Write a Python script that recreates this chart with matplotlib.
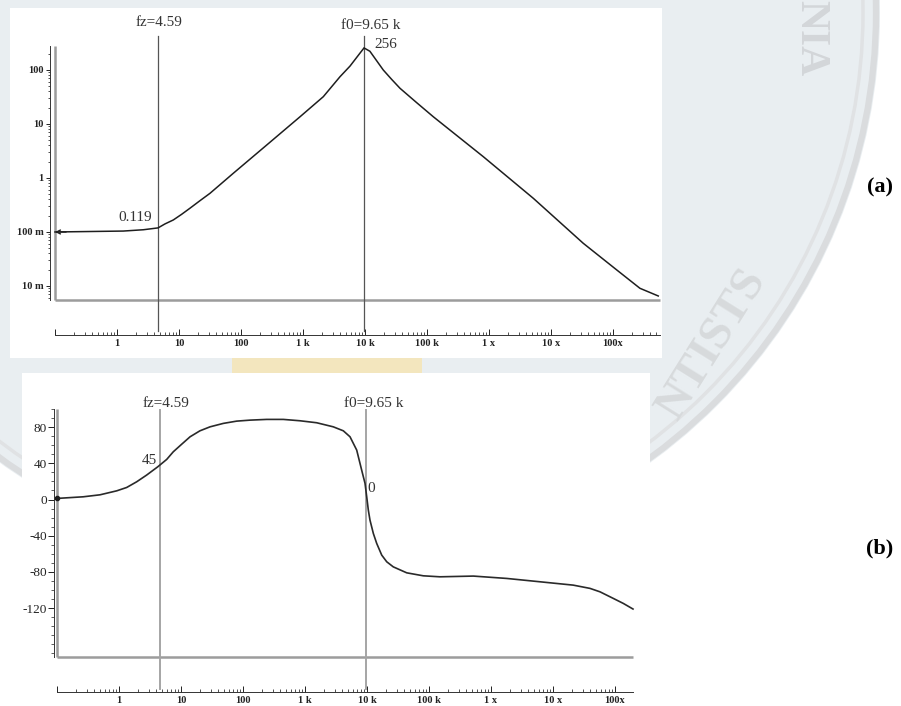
import matplotlib
matplotlib.use('Agg')
import matplotlib.pyplot as plt
from matplotlib.patches import Circle, Rectangle
from matplotlib.ticker import LogLocator, NullFormatter, FixedLocator

plt.rcParams['font.family'] = ['Liberation Serif', 'DejaVu Serif']

# ---------------- data ----------------
fz = 4.59
f0 = 9650.0

mag_freq = [0.1, 1.26, 2.66, 3.41, 4.59, 5.94, 8.1, 11.0, 15, 21.8, 31.6, 75,
            260, 895, 2125, 3950, 5730, 8300, 9650, 12000, 19700, 26900,
            36700, 68200, 126500, 809000, 5.19e6, 3.31e7, 1.15e8, 2.72e8, 5.37e8]
mag_val = [0.100, 0.104, 0.110, 0.114, 0.119, 0.141, 0.167, 0.212, 0.275, 0.38,
           0.52, 1.22, 4.08, 13.6, 32, 75, 118, 205, 256, 222, 100, 67,
           45.8, 24.8, 13.6, 2.48, 0.42, 0.0618, 0.0198, 0.00906, 0.00653]

ph_freq = [0.1, 0.265, 0.494, 0.92, 1.33, 1.93, 2.79, 4.21, 5.88, 7.5, 10.3,
           14, 20.2, 29.4, 48.2, 79, 130, 241, 447, 830, 1543, 2860, 4150,
           5320, 6820, 8200, 9290, 9890, 10500, 11170, 12650, 14330, 17260,
           20800, 26500, 43700, 80900, 150000, 519000, 1.79e6, 6.17e6,
           2.12e7, 3.95e7, 5.73e7, 9.4e7, 1.36e8, 1.95e8]
ph_val = [1.2, 3.0, 5.2, 9.6, 13.3, 19.6, 27.0, 36.1, 44.3, 52.7, 61.2,
          69.3, 75.9, 80.3, 84.1, 86.6, 87.7, 88.5, 88.5, 87.0, 84.8, 80.3, 75.9,
          69.3, 54.6, 32.5, 17.8, 3.0, -11.7, -22.8, -37.5, -48.5, -61.4,
          -68.8, -74.4, -81.0, -84.3, -85.4, -84.6, -87.2, -90.9,
          -94.6, -98.2, -102.0, -109.3, -114.8, -121.0]

x_ticks = [0.1, 1, 10, 100, 1e3, 1e4, 1e5, 1e6, 1e7, 1e8]
x_labels = ['', '1', '10', '100', '1 k', '10 k', '100 k', '1 x', '10 x', '100x']

mag_ticks = [0.01, 0.1, 1, 10, 100]
mag_labels = ['10 m', '100 m', '1', '10', '100']

ph_ticks = [80, 40, 0, -40, -80, -120]
ph_labels = ['80', '40', '0', '-40', '-80', '-120']

fz_label = 'fz=4.59'
f0_label = 'f0=9.65 k'
peak_label = '256'
low_label = '0.119'
ph_fz_label = '45'
ph_f0_label = '0'

# ---------------- figure ----------------
W, H = 901, 706
fig = plt.figure(figsize=(W / 100, H / 100), dpi=100)
fig.patch.set_facecolor('white')

bg = fig.add_axes([0, 0, 1, 1])
bg.set_xlim(0, W)
bg.set_ylim(H, 0)
bg.axis('off')

# watermark seal
bg.add_patch(Circle((325, 13), 555, fc='#e9eef1', ec='none', zorder=0))
bg.add_patch(Circle((325, 13), 551, fc='none', ec='#dadcde', lw=4.5, zorder=1))
bg.add_patch(Circle((325, 13), 538, fc='none', ec='#e0e2e4', lw=2.5, zorder=1))
bg.add_patch(Rectangle((232, 356), 190, 18, fc='#f3e6be', ec='none', zorder=1))
bg.text(810, 38, 'NIA', rotation=-90, fontsize=30, color='#d3d6d9',
        weight='bold', ha='center', va='center', zorder=2)
bg.text(712, 345, 'NTISTS', rotation=58, fontsize=34, color='#d7dadc',
        weight='bold', ha='center', va='center', zorder=2)

# white panels
bg.add_patch(Rectangle((10, 8), 652, 350, fc='white', ec='none', zorder=3))
bg.add_patch(Rectangle((22, 373), 628, 333, fc='white', ec='none', zorder=3))

bg.text(880, 187, '(a)', fontsize=16, weight='bold', ha='center', va='center', zorder=4)
bg.text(880, 548, '(b)', fontsize=16, weight='bold', ha='center', va='center', zorder=4)


def px_rect(x0, y0, x1, y1):
    return [x0 / W, 1 - y1 / H, (x1 - x0) / W, (y1 - y0) / H]


INK = '#1e1e1e'
GRAY = '#9c9c9c'


def style_axes(ax, left_out, bottom_out):
    ax.set_facecolor('none')
    for s in ['top', 'right']:
        ax.spines[s].set_visible(False)
    ax.spines['left'].set_position(('outward', left_out))
    ax.spines['bottom'].set_position(('outward', bottom_out))
    for s in ['left', 'bottom']:
        ax.spines[s].set_linewidth(0.7)
        ax.spines[s].set_color('#333333')
    ax.plot([0, 0], [0, 1], transform=ax.transAxes, color=GRAY, lw=1.8,
            clip_on=False, solid_capstyle='butt')
    ax.plot([0, 1], [0, 0], transform=ax.transAxes, color=GRAY, lw=1.8,
            clip_on=False, solid_capstyle='butt')
    ax.set_xticks(x_ticks, labels=x_labels, fontweight='bold', fontsize=7.5)
    ax.xaxis.set_minor_locator(LogLocator(base=10, subs=range(2, 10), numticks=100))
    ax.xaxis.set_minor_formatter(NullFormatter())
    ax.tick_params(axis='x', which='major', direction='in', length=4, width=0.7,
                   pad=3, colors='#222222')
    ax.tick_params(axis='x', which='minor', direction='in', length=2, width=0.6,
                   colors='#333333')


# ---------------- (a) magnitude ----------------
ax1 = fig.add_axes(px_rect(55, 46, 660, 300))
ax1.set_xscale('log')
ax1.set_yscale('log')
ax1.set_xlim(0.1, 5.73e8)
ax1.set_ylim(0.0055, 278)
style_axes(ax1, 3.6, 25.2)
ax1.set_yticks(mag_ticks, labels=mag_labels, fontweight='bold', fontsize=7.5)
ax1.yaxis.set_minor_locator(LogLocator(base=10, subs=range(2, 10), numticks=100))
ax1.yaxis.set_minor_formatter(NullFormatter())
ax1.tick_params(axis='y', which='major', direction='out', length=3, width=0.7,
                pad=1.5, colors='#222222')
ax1.tick_params(axis='y', which='minor', direction='out', length=1.5, width=0.6,
                colors='#333333')

xt1 = ax1.get_xaxis_transform()
for f in (fz, f0):
    ax1.plot([f, f], [-0.122, 1.039], transform=xt1, color='#555555', lw=0.9,
             clip_on=False)
ax1.plot(mag_freq, mag_val, color=INK, lw=1.1, solid_joinstyle='miter', clip_on=False)
ax1.annotate('', xy=(mag_freq[0], mag_val[0]), xytext=(8, 0),
             textcoords='offset points',
             arrowprops=dict(arrowstyle='->', lw=1.0, color=INK,
                             shrinkA=0, shrinkB=0, mutation_scale=7),
             annotation_clip=False)

tkw = dict(fontsize=11, color='#333333', ha='center', va='center')
ax1.annotate(fz_label, xy=(fz, 1.0906), xycoords=xt1, xytext=(0.7, 0),
             textcoords='offset points', **tkw)
ax1.annotate(f0_label, xy=(f0, 1.079), xycoords=xt1, xytext=(5, 0),
             textcoords='offset points', **tkw)
ax1.annotate(peak_label, xy=(f0, 256), xytext=(7.5, 2.2), textcoords='offset points',
             fontsize=11, color='#333333', ha='left', va='center')
ax1.annotate(low_label, xy=(fz, 0.119), xytext=(-4.3, 7.2), textcoords='offset points',
             fontsize=11, color='#333333', ha='right', va='center')

# ---------------- (b) phase ----------------
ax2 = fig.add_axes(px_rect(57, 409, 633, 657))
ax2.set_xscale('log')
ax2.set_xlim(0.1, 1.95e8)
ax2.set_ylim(-174, 100)
style_axes(ax2, 2.2, 25.2)
ax2.set_yticks(ph_ticks, labels=ph_labels, fontsize=9.5)
ax2.yaxis.set_minor_locator(FixedLocator([v for v in range(-170, 101, 10)
                                          if v not in ph_ticks]))
ax2.tick_params(axis='y', which='major', direction='out', length=4, width=0.7,
                pad=1, colors='#222222')
ax2.tick_params(axis='y', which='minor', direction='out', length=2, width=0.6,
                colors='#444444')

xt2 = ax2.get_xaxis_transform()
for f in (fz, f0):
    ax2.plot([f, f], [-0.129, 0.996], transform=xt2, color='#a5a5a5', lw=1.4,
             clip_on=False)
ax2.plot(ph_freq, ph_val, color='#2a2a2a', lw=1.2, solid_joinstyle='round', clip_on=False)
ax2.plot([ph_freq[0]], [ph_val[0]], marker='o', ms=3, color=INK, clip_on=False)

ax2.annotate(fz_label, xy=(fz, 1.024), xycoords=xt2, xytext=(4.3, 0),
             textcoords='offset points', **tkw)
ax2.annotate(f0_label, xy=(f0, 1.024), xycoords=xt2, xytext=(5.8, 0),
             textcoords='offset points', **tkw)
ax2.annotate(ph_fz_label, xy=(fz, 0.794), xycoords=xt2, xytext=(-8, 0),
             textcoords='offset points', **tkw)
ax2.annotate(ph_f0_label, xy=(f0, 0.681), xycoords=xt2, xytext=(4, 0),
             textcoords='offset points', **tkw)

fig.savefig('out.png', dpi=100, facecolor='white')
